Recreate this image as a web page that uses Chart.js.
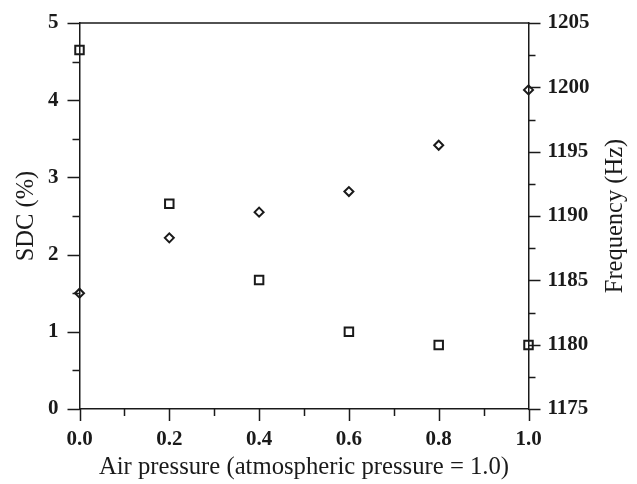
<!DOCTYPE html>
<html>
<head>
<meta charset="utf-8">
<script src="https://cdn.jsdelivr.net/npm/chart.js@4"></script>
<style>
html,body{margin:0;padding:0;background:#fff;}
#wrap{width:637px;height:484px;}
</style>
</head>
<body>
<div id="wrap"><canvas id="c" width="637" height="484"></canvas></div>
<script>
// Data
const airPressure = [0.0, 0.2, 0.4, 0.6, 0.8, 1.0];
const sdcValues = [4.65, 2.66, 1.67, 1.0, 0.83, 0.83];
const freqValues = [1184.0, 1188.3, 1190.3, 1191.9, 1195.5, 1199.8];
const xTickLabels = ['0.0', '0.2', '0.4', '0.6', '0.8', '1.0'];
const sdcTickLabels = ['0', '1', '2', '3', '4', '5'];
const freqTickLabels = ['1175', '1180', '1185', '1190', '1195', '1200', '1205'];

const INK = '#1a1a1a';
const SERIF = "'Liberation Serif', 'Times New Roman', serif";

function isNear(v, list) {
  return list.some(s => Math.abs(parseFloat(s) - v) < 1e-6);
}

const tickPlugin = {
  id: 'tickMarks',
  afterDraw(chart) {
    const ctx = chart.ctx;
    const ca = chart.chartArea;
    const sx = chart.scales.x, sy = chart.scales.y, sy2 = chart.scales.y2;
    ctx.save();
    ctx.strokeStyle = INK;
    ctx.lineWidth = 1.5;
    ctx.beginPath();
    // top frame line
    ctx.moveTo(ca.left, ca.top);
    ctx.lineTo(ca.right, ca.top);
    // x ticks
    sx.ticks.forEach(t => {
      const px = Math.round(sx.getPixelForValue(t.value)) + 0.5;
      const len = isNear(t.value, xTickLabels) ? 12 : 7;
      ctx.moveTo(px, ca.bottom);
      ctx.lineTo(px, ca.bottom + len);
    });
    // left y ticks
    sy.ticks.forEach(t => {
      const py = Math.round(sy.getPixelForValue(t.value)) + 0.5;
      const len = isNear(t.value, sdcTickLabels) ? 12 : 7;
      ctx.moveTo(ca.left, py);
      ctx.lineTo(ca.left - len, py);
    });
    // right y ticks
    sy2.ticks.forEach(t => {
      const py = Math.round(sy2.getPixelForValue(t.value)) + 0.5;
      const len = isNear(t.value, freqTickLabels) ? 12 : 7;
      ctx.moveTo(ca.right, py);
      ctx.lineTo(ca.right + len, py);
    });
    ctx.stroke();
    // right axis title reading bottom-to-top
    ctx.fillStyle = INK;
    ctx.font = '24.5px ' + SERIF;
    ctx.textAlign = 'center';
    ctx.textBaseline = 'middle';
    ctx.translate(616, (ca.top + ca.bottom) / 2);
    ctx.rotate(-Math.PI / 2);
    ctx.fillText('Frequency (Hz)', 0, 0);
    ctx.restore();
  }
};

function fixVertical(width) {
  return s => { s.width = width; s.paddingTop = 0; s.paddingBottom = 0; };
}

new Chart(document.getElementById('c'), {
  type: 'scatter',
  data: {
    datasets: [
      {
        label: 'SDC (%)',
        data: airPressure.map((x, i) => ({x: x, y: sdcValues[i]})),
        yAxisID: 'y',
        pointStyle: 'rect',
        pointRadius: 6,
        pointHoverRadius: 6,
        borderWidth: 2,
        borderColor: INK,
        backgroundColor: 'rgba(255,255,255,0)',
        clip: false
      },
      {
        label: 'Frequency (Hz)',
        data: airPressure.map((x, i) => ({x: x, y: freqValues[i]})),
        yAxisID: 'y2',
        pointStyle: 'rectRot',
        pointRadius: 4.5,
        pointHoverRadius: 4.5,
        borderWidth: 2,
        borderColor: INK,
        backgroundColor: 'rgba(255,255,255,0)',
        clip: false
      }
    ]
  },
  options: {
    responsive: false,
    animation: false,
    events: [],
    layout: {padding: {top: 23, left: 0, right: 0, bottom: 0}},
    plugins: {legend: {display: false}, tooltip: {enabled: false}},
    scales: {
      x: {
        type: 'linear',
        position: 'bottom',
        min: 0, max: 1,
        grid: {display: false, drawTicks: false},
        border: {display: true, color: INK, width: 1.5},
        ticks: {
          stepSize: 0.1,
          autoSkip: false,
          maxRotation: 0,
          padding: 18,
          color: INK,
          font: {family: SERIF, size: 21, weight: 'bold'},
          callback: function(v) {
            const s = xTickLabels.find(l => Math.abs(parseFloat(l) - v) < 1e-6);
            return s === undefined ? '' : s;
          }
        },
        title: {
          display: true,
          text: 'Air pressure (atmospheric pressure = 1.0)',
          color: INK,
          font: {family: SERIF, size: 24.7, weight: 'normal'},
          padding: {top: 2, bottom: 2}
        },
        afterFit: s => { s.height = 75; s.paddingLeft = 0; s.paddingRight = 0; }
      },
      y: {
        type: 'linear',
        position: 'left',
        min: 0, max: 5,
        grid: {display: false, drawTicks: false},
        border: {display: true, color: INK, width: 1.5},
        ticks: {
          stepSize: 0.5,
          autoSkip: false,
          padding: 21,
          color: INK,
          font: {family: SERIF, size: 21, weight: 'bold'},
          callback: function(v) {
            const s = sdcTickLabels.find(l => Math.abs(parseFloat(l) - v) < 1e-6);
            return s === undefined ? '' : s;
          }
        },
        title: {
          display: true,
          text: 'SDC (%)',
          color: INK,
          font: {family: SERIF, size: 24.5, weight: 'normal'},
          padding: {top: 12, bottom: 0}
        },
        afterFit: fixVertical(79.5)
      },
      y2: {
        type: 'linear',
        position: 'right',
        min: 1175, max: 1205,
        grid: {display: false, drawTicks: false},
        border: {display: true, color: INK, width: 1.5},
        ticks: {
          stepSize: 2.5,
          autoSkip: false,
          padding: 19,
          color: INK,
          font: {family: SERIF, size: 21, weight: 'bold'},
          callback: function(v) {
            const s = freqTickLabels.find(l => Math.abs(parseFloat(l) - v) < 1e-6);
            return s === undefined ? '' : s;
          }
        },
        title: {display: false},
        afterFit: fixVertical(108.5)
      }
    }
  },
  plugins: [tickPlugin]
});
</script>
</body>
</html>
